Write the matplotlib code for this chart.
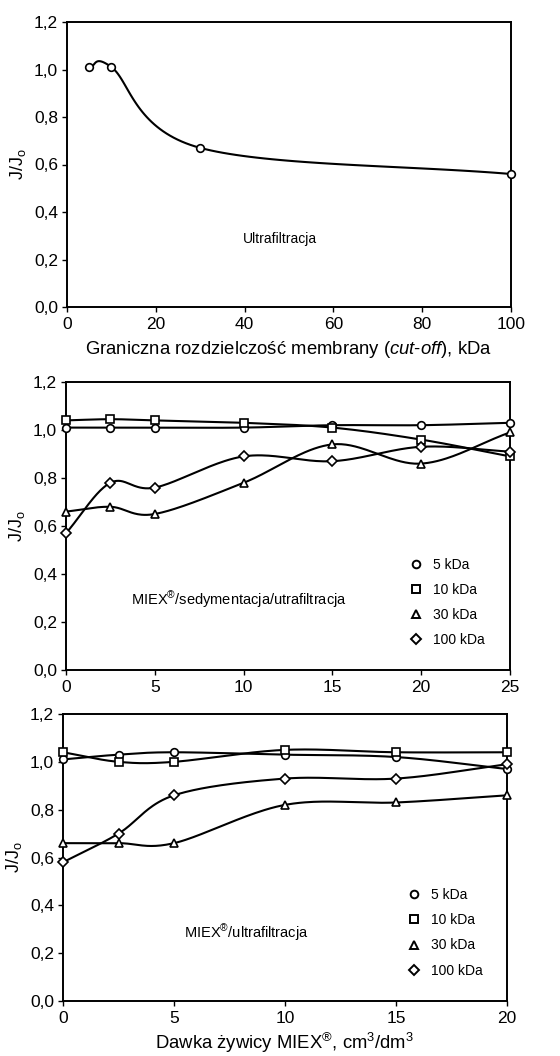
import numpy as np
import matplotlib
matplotlib.use("Agg")
import matplotlib.pyplot as plt
from matplotlib.lines import Line2D

plt.rcParams['font.family'] = ['Liberation Sans', 'DejaVu Sans']
plt.rcParams['mathtext.fontset'] = 'custom'
plt.rcParams['mathtext.rm'] = 'Liberation Sans'
plt.rcParams['mathtext.it'] = 'Liberation Sans:italic'
plt.rcParams['mathtext.bf'] = 'Liberation Sans:bold'

# ---------------- data ----------------
uf_cutoff = [5, 10, 30, 100]
uf_ratio = [1.01, 1.01, 0.67, 0.56]

sed_dose = [0, 2.5, 5, 10, 15, 20, 25]
sed_5 = [1.01, 1.01, 1.01, 1.01, 1.02, 1.02, 1.03]
sed_10 = [1.04, 1.045, 1.04, 1.03, 1.01, 0.96, 0.89]
sed_30 = [0.66, 0.68, 0.65, 0.78, 0.94, 0.86, 0.99]
sed_100 = [0.57, 0.78, 0.76, 0.89, 0.87, 0.93, 0.91]

mu_dose = [0, 2.5, 5, 10, 15, 20]
mu_5 = [1.01, 1.03, 1.04, 1.03, 1.02, 0.97]
mu_10 = [1.04, 1.00, 1.00, 1.05, 1.04, 1.04]
mu_30 = [0.66, 0.66, 0.66, 0.82, 0.83, 0.86]
mu_100 = [0.58, 0.70, 0.86, 0.93, 0.93, 0.99]

series_labels = ['5 kDa', '10 kDa', '30 kDa', '100 kDa']
series_markers = ['o', 's', '^', 'D']

y_ticks = [0.0, 0.2, 0.4, 0.6, 0.8, 1.0, 1.2]
y_ticklabels = ['0,0', '0,2', '0,4', '0,6', '0,8', '1,0', '1,2']
top_xticks = [0, 20, 40, 60, 80, 100]
mid_xticks = [0, 5, 10, 15, 20, 25]
bot_xticks = [0, 5, 10, 15, 20]


def smooth(x, y, xr, yr, n=40):
    """Catmull-Rom style smoothed line (drawing style only)."""
    x = np.asarray(x, float); y = np.asarray(y, float)
    px = (x - xr[0]) / (xr[1] - xr[0])
    py = (y - yr[0]) / (yr[1] - yr[0])
    P = np.column_stack([px, py])
    k = len(P)
    M = np.zeros_like(P)
    for i in range(k):
        if i == 0:
            M[i] = P[1] - P[0]
        elif i == k - 1:
            M[i] = P[-1] - P[-2]
        else:
            M[i] = (P[i + 1] - P[i - 1]) / 2.0
    out = []
    t = np.linspace(0, 1, n)[:, None]
    for i in range(k - 1):
        b0 = P[i]; b1 = P[i] + M[i] / 3.0
        b2 = P[i + 1] - M[i + 1] / 3.0; b3 = P[i + 1]
        seg = ((1 - t) ** 3) * b0 + 3 * ((1 - t) ** 2) * t * b1 + 3 * (1 - t) * t ** 2 * b2 + t ** 3 * b3
        out.append(seg if i == 0 else seg[1:])
    S = np.vstack(out)
    return S[:, 0] * (xr[1] - xr[0]) + xr[0], S[:, 1] * (yr[1] - yr[0]) + yr[0]


fig = plt.figure(figsize=(5.6, 10.56), dpi=100)

W, H = 560.0, 1056.0
def add_ax(l, r, t, b):
    return fig.add_axes([l / W, 1 - b / H, (r - l) / W, (b - t) / H])

ax1 = add_ax(67, 511, 22, 307)
ax2 = add_ax(66, 510, 382, 670)
ax3 = add_ax(63, 507, 714, 1001)

LW = 1.5
MS = 5.5
MEW = 1.2


def style(ax, xlim, xticks):
    ax.set_xlim(*xlim)
    ax.set_ylim(0, 1.2)
    ax.set_yticks(y_ticks)
    ax.set_yticklabels(y_ticklabels)
    ax.set_xticks(xticks)
    ax.set_xticklabels([str(v) for v in xticks])
    ax.tick_params(direction='out', length=3.5, width=1.0, labelsize=12.5, pad=3)
    ax.tick_params(axis='x', pad=4)
    for s in ax.spines.values():
        s.set_linewidth(1.4)
    ax.set_ylabel(r'J/J$_\mathregular{o}$', fontsize=13, labelpad=4)


def plot_series(ax, x, y, marker, xr):
    sx, sy = smooth(x, y, xr, (0, 1.2))
    ax.plot(sx, sy, color='black', lw=LW, zorder=2)
    ax.plot(x, y, linestyle='none', marker=marker, ms=MS if marker != 'D' else MS - 0.8,
            mfc='white', mec='black', mew=MEW, zorder=3, clip_on=False)


# ---- top panel ----
style(ax1, (0, 100), top_xticks)
plot_series(ax1, uf_cutoff, uf_ratio, 'o', (0, 100))
ax1.text(0.48, 0.239, 'Ultrafiltracja', transform=ax1.transAxes, fontsize=10,
         ha='center', va='center')
ax1.set_xlabel(r'Graniczna rozdzielczość membrany ($\mathit{cut}$-$\mathit{off}$), kDa',
               fontsize=13.3, labelpad=5)

# ---- middle panel ----
style(ax2, (0, 25), mid_xticks)
for ys, m in zip([sed_5, sed_10, sed_30, sed_100], series_markers):
    plot_series(ax2, sed_dose, ys, m, (0, 25))
ax2.text(0.39, 0.243, r'MIEX$^{\mathregular{®}}$/sedymentacja/utrafiltracja',
         transform=ax2.transAxes, fontsize=10.5, ha='center', va='center')

# ---- bottom panel ----
style(ax3, (0, 20), bot_xticks)
for ys, m in zip([mu_5, mu_10, mu_30, mu_100], series_markers):
    plot_series(ax3, mu_dose, ys, m, (0, 20))
ax3.text(0.414, 0.237, r'MIEX$^{\mathregular{®}}$/ultrafiltracja',
         transform=ax3.transAxes, fontsize=10.5, ha='center', va='center')
ax3.set_xlabel(r'Dawka żywicy MIEX$^{\mathregular{®}}$, cm$^{\mathregular{3}}$/dm$^{\mathregular{3}}$',
               fontsize=13.3, labelpad=3)

# legends
def add_legend(ax, anchor):
    handles = [Line2D([], [], linestyle='none', marker=m, ms=5.5 if m != 'D' else 4.8,
                      mfc='white', mec='black', mew=1.4) for m in series_markers]
    ax.legend(handles, series_labels, loc='upper left', bbox_to_anchor=anchor,
              frameon=False, fontsize=10, handlelength=1.0, handletextpad=0.75,
              labelspacing=0.8, borderpad=0, borderaxespad=0)

add_legend(ax2, (0.7725, 0.39))
add_legend(ax3, (0.775, 0.393))

fig.savefig('out.png', dpi=100)
